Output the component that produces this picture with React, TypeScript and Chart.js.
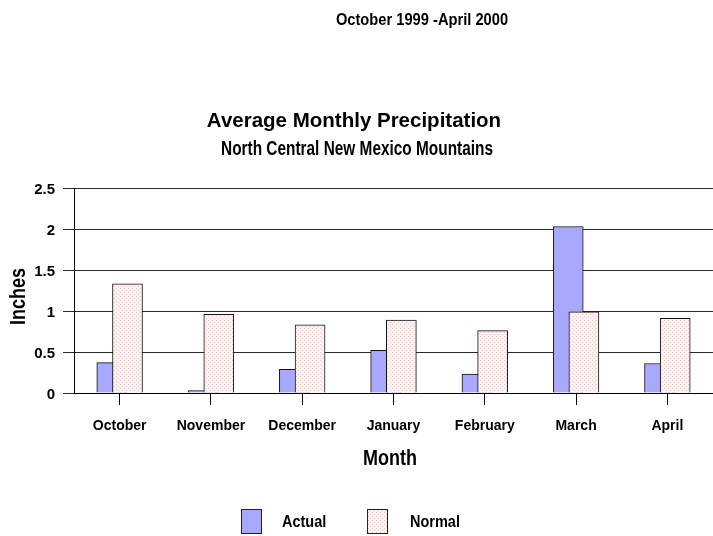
import React, { useEffect, useRef } from 'react';
import { Chart, registerables } from 'chart.js';

Chart.register(...registerables);

const months = ['October', 'November', 'December', 'January', 'February', 'March', 'April'];
const actual = [0.37, 0.03, 0.29, 0.52, 0.23, 2.03, 0.36];
const normal = [1.33, 0.96, 0.83, 0.89, 0.76, 0.99, 0.91];
const yTicks = [0, 0.5, 1, 1.5, 2, 2.5];
const seriesNames = ['Actual', 'Normal'];
const headerText = 'October 1999 -April 2000';
const titleText = 'Average Monthly Precipitation';
const subtitleText = 'North Central New Mexico Mountains';
const xTitle = 'Month';
const yTitle = 'Inches';

const FONT = '"Liberation Sans", Arial, Helvetica, sans-serif';
const BAR_SHIFT = 0.086; // half-overlap offset of the two series within a month

function makePattern(ctx: CanvasRenderingContext2D) {
  const c = document.createElement('canvas');
  c.width = 4;
  c.height = 4;
  const g = c.getContext('2d')!;
  g.fillStyle = '#faf1f1';
  g.fillRect(0, 0, 4, 4);
  g.fillStyle = '#e6cdcd';
  g.fillRect(0, 0, 1, 1);
  g.fillRect(2, 2, 1, 1);
  return ctx.createPattern(c, 'repeat')!;
}

function stretchedText(
  ctx: CanvasRenderingContext2D,
  text: string,
  x: number,
  y: number,
  font: string,
  sy: number,
  rot = 0
) {
  ctx.save();
  ctx.translate(x, y);
  if (rot) ctx.rotate(rot);
  ctx.scale(1, sy);
  ctx.font = font;
  ctx.textAlign = 'center';
  ctx.textBaseline = 'middle';
  ctx.fillStyle = '#000';
  ctx.fillText(text, 0, 0);
  ctx.restore();
}

const textPlugin = {
  id: 'texts',
  afterDraw(chart: any) {
    const ctx: CanvasRenderingContext2D = chart.ctx;
    const area = chart.chartArea;
    const cx = (area.left + area.right) / 2;
    const cy = (area.top + area.bottom) / 2;
    stretchedText(ctx, headerText, 422, 20, `bold 14.7px ${FONT}`, 1.15);
    stretchedText(ctx, titleText, 354, 121, `bold 20.5px ${FONT}`, 1.02);
    stretchedText(ctx, subtitleText, 357, 150, `bold 15.4px ${FONT}`, 1.28);
    stretchedText(ctx, xTitle, cx - 3.5, 459, `bold 18px ${FONT}`, 1.22);
    stretchedText(ctx, yTitle, 19, cy + 6, `bold 18px ${FONT}`, 1.2, -Math.PI / 2);

    // legend
    const items = [
      { box: 241, text: 282 },
      { box: 367, text: 410 },
    ];
    chart.data.datasets.forEach((ds: any, i: number) => {
      const it = items[i];
      ctx.save();
      ctx.fillStyle = ds.backgroundColor;
      ctx.fillRect(it.box, 509, 20, 24);
      ctx.strokeStyle = '#222';
      ctx.lineWidth = 1;
      ctx.strokeRect(it.box + 0.5, 509.5, 20, 24);
      ctx.restore();
      ctx.save();
      ctx.font = `bold 14.5px ${FONT}`;
      const w = ctx.measureText(ds.label).width;
      ctx.restore();
      stretchedText(ctx, ds.label, it.text + w / 2, 522, `bold 14.5px ${FONT}`, 1.15);
    });
  },
};

export default function App() {
  const ref = useRef<HTMLCanvasElement>(null);

  useEffect(() => {
    const canvas = ref.current!;
    const ctx = canvas.getContext('2d')!;
    const pattern = makePattern(ctx);
    const chart = new Chart(ctx, {
      type: 'bar',
      data: {
        datasets: [
          {
            label: seriesNames[0],
            data: actual.map((v, i) => ({ x: i - BAR_SHIFT, y: v })),
            backgroundColor: '#a8a8ff',
            borderColor: '#111',
            borderWidth: 1,
            barThickness: 30,
            grouped: false,
            order: 1,
          },
          {
            label: seriesNames[1],
            data: normal.map((v, i) => ({ x: i + BAR_SHIFT, y: v })),
            backgroundColor: pattern as any,
            borderColor: '#111',
            borderWidth: 1,
            barThickness: 30,
            grouped: false,
            order: 0,
          },
        ],
      },
      options: {
        animation: false,
        responsive: false,
        maintainAspectRatio: false,
        layout: { padding: { top: 188, right: 0, bottom: 63, left: 0 } },
        plugins: {
          legend: { display: false },
          tooltip: { enabled: false },
          title: { display: false },
        },
        scales: {
          x: {
            type: 'linear',
            min: -0.5,
            max: 6.5,
            offset: false,
            afterBuildTicks: (s: any) => {
              s.ticks = months.map((_, i) => ({ value: i }));
            },
            afterFit: (s: any) => {
              s.height = 80;
            },
            ticks: {
              callback: (v: any) => months[v] ?? '',
              font: { family: FONT, size: 14, weight: 'bold' },
              color: '#000',
              padding: 13,
              autoSkip: false,
              maxRotation: 0,
            },
            grid: { display: true, offset: false, drawOnChartArea: false, tickLength: 12, color: '#000' },
            border: { display: true, color: '#000' },
          },
          y: {
            min: 0,
            max: 2.5,
            afterBuildTicks: (s: any) => {
              s.ticks = yTicks.map((v) => ({ value: v }));
            },
            afterFit: (s: any) => {
              s.width = 74;
            },
            ticks: {
              callback: (v: any) => String(v),
              font: { family: FONT, size: 15, weight: 'bold' },
              color: '#000',
              padding: 8,
              labelOffset: 2,
            },
            grid: { color: '#2a2a2a', tickLength: 11 },
            border: { display: true, color: '#000' },
          },
        },
      } as any,
      plugins: [textPlugin],
    });
    return () => chart.destroy();
  }, []);

  return (
    <div style={{ position: 'absolute', left: 0, top: 0, width: 713, height: 536, background: '#fff' }}>
      <canvas ref={ref} width={713} height={536} style={{ display: 'block' }} />
    </div>
  );
}
